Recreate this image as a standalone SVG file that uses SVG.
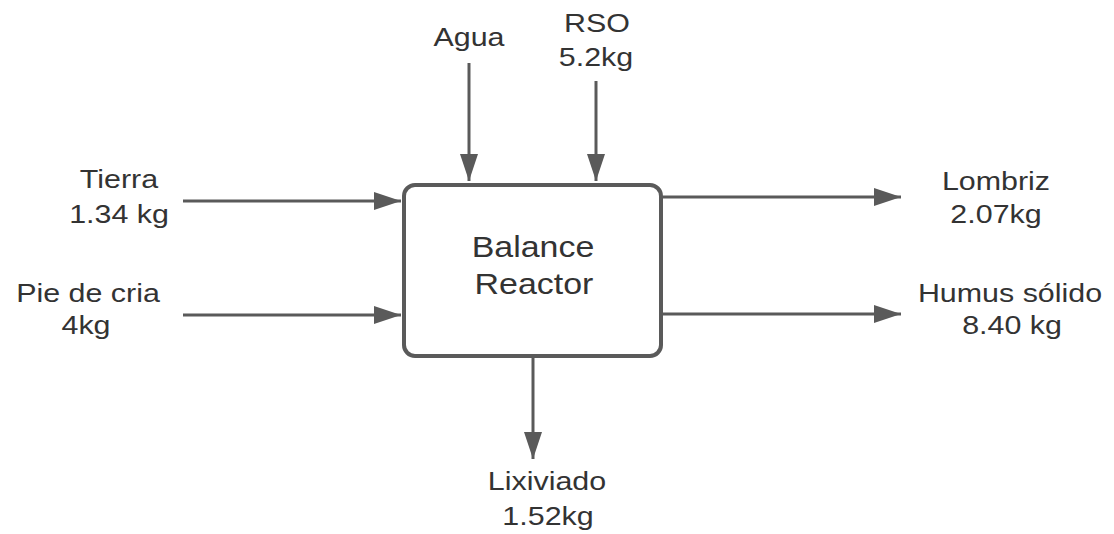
<svg xmlns="http://www.w3.org/2000/svg" width="1114" height="534" viewBox="0 0 1114 534">
  <style>
    .lbl { font-family: "Liberation Sans", Arial, sans-serif; font-size: 26px; fill: #333333; text-anchor: middle; }
    .big { font-size: 29px; }
    .flow { stroke: #5a5a5a; stroke-width: 3; fill: none; marker-end: url(#head); }
  </style>
  <defs>
    <marker id="head" markerUnits="userSpaceOnUse" markerWidth="28" markerHeight="18" refX="27" refY="9" orient="auto">
      <path d="M0,0 L27,9 L0,18 Z" fill="#5a5a5a"/>
    </marker>
  </defs>
  <rect width="1114" height="534" fill="#ffffff"/>

  <g id="connectors">
    <line class="flow" x1="183" y1="201" x2="401" y2="201"/>
    <line class="flow" x1="183" y1="315" x2="401" y2="315"/>
    <line class="flow" x1="469" y1="63" x2="469" y2="181"/>
    <line class="flow" x1="596" y1="81" x2="596" y2="181"/>
    <line class="flow" x1="663" y1="197" x2="901" y2="197"/>
    <line class="flow" x1="663" y1="314" x2="901" y2="314"/>
    <line class="flow" x1="533" y1="358" x2="533" y2="459"/>
  </g>

  <g id="reactor">
    <rect x="404" y="185" width="257" height="171" rx="11" fill="#ffffff" stroke="#5a5a5a" stroke-width="4"/>
    <text class="lbl big" transform="translate(533,257) scale(1.17,1)">Balance</text>
    <text class="lbl big" transform="translate(534,294) scale(1.17,1)">Reactor</text>
  </g>

  <g id="tierra">
    <text class="lbl" transform="translate(119,188) scale(1.17,1)">Tierra</text>
    <text class="lbl" transform="translate(119,223) scale(1.17,1)">1.34 kg</text>
  </g>

  <g id="pie-de-cria">
    <text class="lbl" transform="translate(88,302) scale(1.17,1)">Pie de cria</text>
    <text class="lbl" transform="translate(86,334) scale(1.17,1)">4kg</text>
  </g>

  <g id="agua">
    <text class="lbl" transform="translate(469,46) scale(1.17,1)">Agua</text>
  </g>

  <g id="rso">
    <text class="lbl" transform="translate(597,32) scale(1.17,1)">RSO</text>
    <text class="lbl" transform="translate(596,66) scale(1.17,1)">5.2kg</text>
  </g>

  <g id="lombriz">
    <text class="lbl" transform="translate(996,190) scale(1.17,1)">Lombriz</text>
    <text class="lbl" transform="translate(996,223) scale(1.17,1)">2.07kg</text>
  </g>

  <g id="humus">
    <text class="lbl" transform="translate(1010,302) scale(1.17,1)">Humus sólido</text>
    <text class="lbl" transform="translate(1012,334) scale(1.17,1)">8.40 kg</text>
  </g>

  <g id="lixiviado">
    <text class="lbl" transform="translate(547,490) scale(1.17,1)">Lixiviado</text>
    <text class="lbl" transform="translate(548,525) scale(1.17,1)">1.52kg</text>
  </g>
</svg>
